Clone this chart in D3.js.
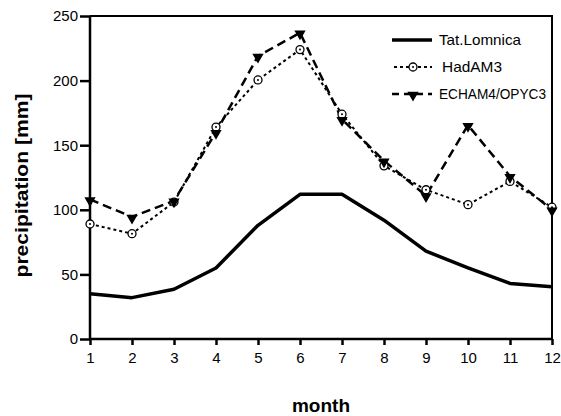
<!DOCTYPE html>
<html>
<head>
<meta charset="utf-8">
<script src="https://cdn.jsdelivr.net/npm/d3@7"></script>
<style>
  html, body { margin: 0; padding: 0; background: #fff; }
  svg { display: block; font-family: "Liberation Sans", Arial, sans-serif; }
</style>
</head>
<body>
<svg id="chart" width="561" height="416"></svg>
<script>
// Monthly precipitation (mm)
const months = [1, 2, 3, 4, 5, 6, 7, 8, 9, 10, 11, 12];
const tatLomnica = [35, 32, 38.5, 55, 88, 112, 112, 92, 68, 55, 43, 40.5];
const hadAM3 = [89, 81.5, 106, 164, 200.5, 224, 174, 134, 115.5, 104, 122, 102];
const echam4 = [108, 94.5, 107, 160, 219, 237, 170, 138, 111, 165.5, 126, 100];
const yTicks = [0, 50, 100, 150, 200, 250];
const seriesNames = ["Tat.Lomnica", "HadAM3", "ECHAM4/OPYC3"];
const legendWidths = [82, 60, 107];

const svg = d3.select("#chart");
const m = { left: 90, right: 552, top: 16, bottom: 339 };

const x = d3.scaleLinear().domain([1, 12]).range([m.left, m.right]);
const y = d3.scaleLinear().domain([0, 250]).range([m.bottom, m.top]);

// frame (top and right edges)
svg.append("path")
  .attr("d", `M${m.left},${m.top}H${m.right}V${m.bottom}`)
  .attr("fill", "none").attr("stroke", "#000").attr("stroke-width", 2);

// axes
const yAxis = svg.append("g").attr("transform", `translate(${m.left},0)`)
  .call(d3.axisLeft(y).tickValues(yTicks).tickSize(10).tickPadding(2));
const xAxis = svg.append("g").attr("transform", `translate(0,${m.bottom})`)
  .call(d3.axisBottom(x).tickValues(months).tickSize(6).tickPadding(7));
[yAxis, xAxis].forEach(g => {
  g.select(".domain").attr("stroke-width", 2.5);
  g.selectAll(".tick line").attr("stroke-width", 2.5);
  g.selectAll(".tick text").attr("font-size", 15).attr("fill", "#000")
    .attr("font-family", "Liberation Sans, Arial, sans-serif");
});
yAxis.select(".domain").attr("d", `M0,${m.top}V${m.bottom}`);
xAxis.select(".domain").attr("d", `M${m.left},0H${m.right}`);

// axis titles
svg.append("text")
  .attr("transform", `translate(28,${(m.top + m.bottom) / 2 + 8}) rotate(-90)`)
  .attr("text-anchor", "middle").attr("font-size", 18).attr("font-weight", "bold")
  .attr("textLength", 184).attr("lengthAdjust", "spacingAndGlyphs")
  .text("precipitation [mm]");
svg.append("text")
  .attr("x", (m.left + m.right) / 2).attr("y", 411.5)
  .attr("text-anchor", "middle").attr("font-size", 19).attr("font-weight", "bold")
  .text("month");

const line = d3.line().x((d, i) => x(months[i])).y(d => y(d));

// observed station
svg.append("path").datum(tatLomnica).attr("d", line)
  .attr("fill", "none").attr("stroke", "#000").attr("stroke-width", 3.5)
  .attr("stroke-linejoin", "round");

// HadAM3
svg.append("path").datum(hadAM3).attr("d", line)
  .attr("fill", "none").attr("stroke", "#000").attr("stroke-width", 2)
  .attr("stroke-dasharray", "3,3");

// ECHAM4/OPYC3
svg.append("path").datum(echam4).attr("d", line)
  .attr("fill", "none").attr("stroke", "#000").attr("stroke-width", 2.5)
  .attr("stroke-dasharray", "9,5");

const tri = d3.symbol().type(d3.symbolTriangle).size(55);

function circleMarker(g, cx, cy) {
  g.append("circle").attr("cx", cx).attr("cy", cy).attr("r", 4)
    .attr("fill", "#fff").attr("stroke", "#000").attr("stroke-width", 1.3);
  g.append("circle").attr("cx", cx).attr("cy", cy).attr("r", 1).attr("fill", "#000");
}
function triMarker(g, cx, cy) {
  g.append("path").attr("d", tri)
    .attr("transform", `translate(${cx},${cy + 1}) rotate(180)`).attr("fill", "#000");
}

const marks = svg.append("g");
hadAM3.forEach((v, i) => circleMarker(marks, x(months[i]), y(v)));
echam4.forEach((v, i) => triMarker(marks, x(months[i]), y(v)));

// legend
const lg = svg.append("g").attr("font-size", 15);
const lx0 = 392, lx1 = 432, ly = [40, 67, 94];
lg.append("line").attr("x1", lx0).attr("x2", lx1).attr("y1", ly[0]).attr("y2", ly[0])
  .attr("stroke", "#000").attr("stroke-width", 3.5);
lg.append("line").attr("x1", lx0 + 2).attr("x2", lx1).attr("y1", ly[1]).attr("y2", ly[1])
  .attr("stroke", "#000").attr("stroke-width", 2).attr("stroke-dasharray", "3,3");
circleMarker(lg, (lx0 + lx1) / 2 + 1, ly[1]);
lg.append("line").attr("x1", lx0).attr("x2", lx1).attr("y1", ly[2]).attr("y2", ly[2])
  .attr("stroke", "#000").attr("stroke-width", 2.5).attr("stroke-dasharray", "7,5");
triMarker(lg, (lx0 + lx1) / 2 + 1, ly[2]);
seriesNames.forEach((n, i) => {
  lg.append("text").attr("x", i === 1 ? 442 : 439).attr("y", ly[i]).attr("dy", "0.35em")
    .attr("textLength", legendWidths[i]).attr("lengthAdjust", "spacingAndGlyphs")
    .text(n);
});
</script>
</body>
</html>
